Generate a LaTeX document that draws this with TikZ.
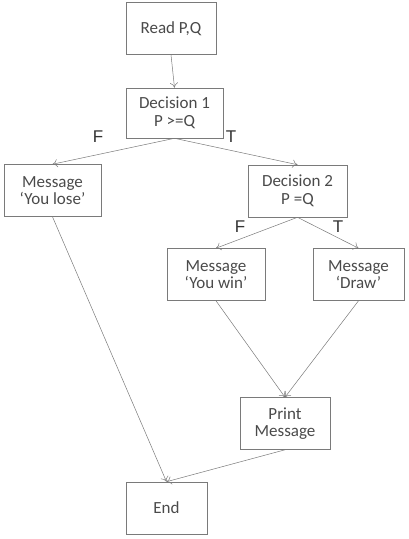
\documentclass[tikz,border=0pt]{standalone}
\usepackage{fontspec}
\setmainfont{Carlito}
\newfontfamily\lblfont{Liberation Sans}
\usetikzlibrary{arrows.meta}
\definecolor{linegray}{HTML}{7A7A7A}
\definecolor{textgray}{HTML}{4A4A4A}
\tikzset{
    every node/.style={rectangle, draw=linegray, line width=0.6pt, align=center, text=textgray, minimum height=52pt, font=\fontsize{17}{17.5}\selectfont}
}
\tikzset{tf/.style={draw=none, minimum height=0pt, inner sep=0pt, text=black!80, font=\lblfont\fontsize{17}{17}\selectfont}}
\tikzset{flow/.style={draw=linegray, line width=0.5pt, -{To[length=5pt, width=8pt]}}}

\begin{document}
\begin{tikzpicture}[x=1pt, y=-1pt]
        \useasboundingbox (0,0) rectangle (408,539);
        \node (v0) [minimum width=90pt] at (171, 28.5) {Read P,Q};
        \node (v1) [minimum width=97pt, minimum height=50pt] at (174.5, 113) {Decision 1\\P >=Q};
        \node (v2) [minimum width=97pt] at (52.5, 190.5) {Message\\`You lose'};
        \node (v3) [minimum width=99pt] at (297.5, 191) {Decision 2\\P =Q};
        \node (v4) [minimum width=98pt] at (216, 274.5) {Message\\`You win'};
        \node (v5) [minimum width=91pt] at (358.5, 274.5) {Message\\`Draw'};
        \node (v6) [minimum width=90pt] at (285, 423.5) {Print\\Message};
        \node (v7) [minimum width=81pt] at (166.5, 508) {End};
        \node (f1) [tf] at (98, 137) {F};
        \node (t1) [tf] at (231, 137) {T};
        \node (f2) [tf] at (240, 227) {F};
        \node (t2) [tf] at (338, 227) {T};
        \draw (v0.south) edge [flow] (v1.north);
        \draw (v1.south) edge [flow] (v2.north);
        \draw (v1.south) edge [flow] (v3.north);
        \draw (v2.south) edge [flow] (v7.north);
        \draw (v3.south) edge [flow] (v4.north);
        \draw (v3.south) edge [flow] (v5.north);
        \draw (v4.south) edge [flow] (v6.north);
        \draw (v5.south) edge [flow] (v6.north);
        \draw (v6.south) edge [flow] (v7.north);
\end{tikzpicture}
\end{document}
